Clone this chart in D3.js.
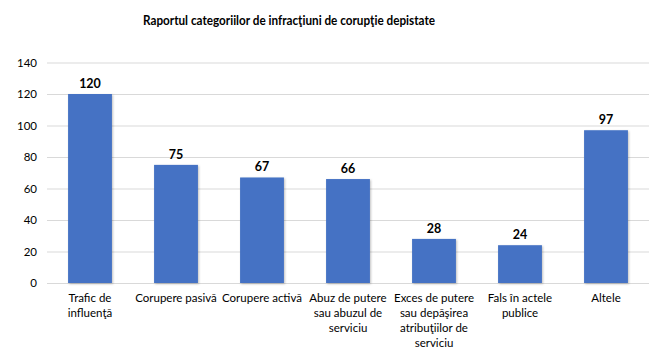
<!DOCTYPE html>
<html>
<head>
<meta charset="utf-8">
<script src="https://cdn.jsdelivr.net/npm/d3@7"></script>
<style>
  body { margin: 0; background: #fff; }
  svg { font-family: Lato, "Open Sans", sans-serif; }
</style>
</head>
<body>
<svg id="chart" width="672" height="354"></svg>
<script>
// date
var categories = [
  "Trafic de influenţă",
  "Corupere pasivă",
  "Corupere activă",
  "Abuz de putere sau abuzul de serviciu",
  "Exces de putere sau depăşirea atribuţiilor de serviciu",
  "Fals în actele publice",
  "Altele"
];
var label_lines = [
  ["Trafic de", "influenţă"],
  ["Corupere pasivă"],
  ["Corupere activă"],
  ["Abuz de putere", "sau abuzul de", "serviciu"],
  ["Exces de putere", "sau depăşirea", "atribuţiilor de", "serviciu"],
  ["Fals în actele", "publice"],
  ["Altele"]
];
var values = [120, 75, 67, 66, 28, 24, 97];
var y_ticks = [0, 20, 40, 60, 80, 100, 120, 140];

var svg = d3.select("#chart");
var plot_left = 47, plot_right = 649, plot_top = 62.5, plot_bottom = 283;

var x = d3.scaleBand()
          .domain(categories)
          .range([plot_left, plot_right])
          .paddingInner(0.49)
          .paddingOuter(0.245);

var y = d3.scaleLinear()
          .domain([0, 140])
          .range([plot_bottom, plot_top]);

// shadow for bars
var defs = svg.append("defs");
var f = defs.append("filter").attr("id", "shadow")
            .attr("x", "-20%").attr("y", "-20%").attr("width", "140%").attr("height", "140%");
f.append("feDropShadow").attr("dx", 1).attr("dy", 1).attr("stdDeviation", 1.2)
 .attr("flood-color", "#000").attr("flood-opacity", 0.25);

// title (condensed to match the narrow original font)
svg.append("text")
   .attr("x", 289).attr("y", 25)
   .attr("text-anchor", "middle")
   .attr("textLength", 292)
   .attr("lengthAdjust", "spacingAndGlyphs")
   .style("font-size", "13.5px")
   .style("font-weight", "bold")
   .style("fill", "#000")
   .text("Raportul categoriilor de infracţiuni de corupţie depistate");

// grid + y axis
var yAxis = d3.axisLeft(y).tickValues(y_ticks).tickSize(-(plot_right - plot_left)).tickPadding(10);
var gy = svg.append("g").attr("transform", "translate(" + plot_left + ",0)").call(yAxis);
gy.select(".domain").remove();
gy.selectAll(".tick line").attr("stroke", "#d9d9d9");
gy.selectAll(".tick text").style("font-size", "11.5px").style("fill", "#000")
  .style("font-family", "Lato, sans-serif").attr("x", -10);

// bars
svg.selectAll("rect.bar")
   .data(values)
   .enter()
   .append("rect")
   .attr("class", "bar")
   .attr("x", (d, i) => x(categories[i]))
   .attr("y", d => y(d))
   .attr("width", x.bandwidth())
   .attr("height", d => y(0) - y(d))
   .style("fill", "#4472c4")
   .attr("filter", "url(#shadow)");

// value labels
svg.selectAll("text.val")
   .data(values)
   .enter()
   .append("text")
   .attr("class", "val")
   .attr("x", (d, i) => x(categories[i]) + x.bandwidth() / 2)
   .attr("y", d => y(d) - 6)
   .attr("text-anchor", "middle")
   .style("font-size", "12.5px")
   .style("font-weight", "bold")
   .style("fill", "#000")
   .text(d => d);

// category labels
var gx = svg.append("g");
label_lines.forEach(function (lines, i) {
  var t = gx.append("text")
            .attr("x", x(categories[i]) + x.bandwidth() / 2)
            .attr("y", 302)
            .attr("text-anchor", "middle")
            .style("font-size", "11.5px")
            .style("fill", "#000");
  lines.forEach(function (l, j) {
    t.append("tspan")
     .attr("x", x(categories[i]) + x.bandwidth() / 2)
     .attr("dy", j === 0 ? 0 : 15)
     .text(l);
  });
});
</script>
</body>
</html>
